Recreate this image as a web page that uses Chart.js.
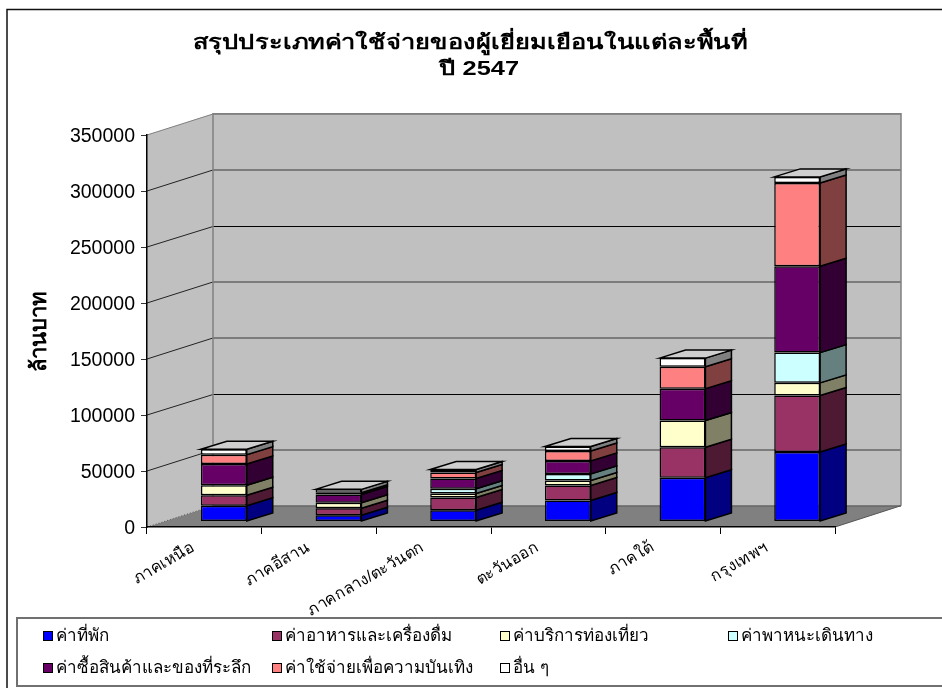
<!DOCTYPE html>
<html>
<head>
<meta charset="utf-8">
<script src="https://cdn.jsdelivr.net/npm/chart.js@4"></script>
<style>
  html, body { margin: 0; padding: 0; background: #fff; overflow: hidden; }
  canvas { display: block; }
</style>
</head>
<body>
<canvas id="c" width="942" height="688"></canvas>
<script>
// ล้านบาท by region
const titleLines = ['สรุปประเภทค่าใช้จ่ายของผู้เยี่ยมเยือนในแต่ละพื้นที่', 'ปี 2547'];
const categories = ['ภาคเหนือ', 'ภาคอีสาน', 'ภาคกลาง/ตะวันตก', 'ตะวันออก', 'ภาคใต้', 'กรุงเทพฯ'];
const seriesNames = ['ค่าที่พัก', 'ค่าอาหารและเครื่องดื่ม', 'ค่าบริการท่องเที่ยว', 'ค่าพาหนะเดินทาง', 'ค่าซื้อสินค้าและของที่ระลึก', 'ค่าใช้จ่ายเพื่อความบันเทิง', 'อื่น ๆ'];
const lodging = [14000, 5600, 10100, 18700, 39000, 62000];
const food = [9500, 6200, 11300, 13400, 27300, 50500];
const services = [8900, 5000, 3600, 4500, 23800, 11300];
const transport = [0, 0, 4200, 5900, 0, 27000];
const shopping = [19000, 7400, 9200, 11600, 28500, 77100];
const entertainment = [8300, 1500, 5400, 8900, 19600, 74400];
const other = [4800, 3000, 2700, 3900, 7700, 5400];
const seriesValues = [lodging, food, services, transport, shopping, entertainment, other];

const frontColors = ['#0000ff', '#993366', '#ffffcc', '#ccffff', '#660066', '#ff8080', '#ffffff'];
const sideColors = ['#000080', '#4d1933', '#808066', '#668080', '#330033', '#804040', '#808080'];
const FONT = "'Liberation Sans', Arial, sans-serif";

// fake 3D: wall depth and bar depth, in px
const WALL = { dx: 66, dy: 21.3 };
const BAR = { dx: 26, dy: 8, shiftX: 19.5, shiftY: -5.5 };
const backLineColors = ['#666', '#666', '#000', '#666', '#666', '#000', '#666', '#808080'];

// title line centres [x, y]; the second line sits off-centre in the original
const titleCentres = [[470, 43], [479, 69]];
// legend cells [x of swatch, y of row centre]
const legendCells = [[43, 636], [272, 636], [500, 636], [728, 636], [43, 668], [272, 668], [500, 668]];

function poly(ctx, pts, fill, stroke, lw) {
  ctx.beginPath();
  pts.forEach((p, i) => i ? ctx.lineTo(p[0], p[1]) : ctx.moveTo(p[0], p[1]));
  ctx.closePath();
  if (fill) { ctx.fillStyle = fill; ctx.fill(); }
  if (stroke) { ctx.strokeStyle = stroke; ctx.lineWidth = lw || 1; ctx.stroke(); }
}

const box3d = {
  id: 'box3d',
  // page, frame, walls and floor go under everything
  beforeDraw(chart) {
    const ctx = chart.ctx, a = chart.chartArea, y = chart.scales.y;
    const dx = WALL.dx, dy = WALL.dy;
    ctx.save();
    ctx.fillStyle = '#fff';
    ctx.fillRect(0, 0, chart.width, chart.height);
    ctx.strokeStyle = '#111';
    ctx.lineWidth = 1.5;
    ctx.strokeRect(7, 9.5, chart.width, chart.height);

    poly(ctx, [[a.left, a.top], [a.left + dx, a.top - dy], [a.left + dx, a.bottom - dy], [a.left, a.bottom]], '#c0c0c0');
    poly(ctx, [[a.left + dx, a.top - dy], [a.right + dx, a.top - dy], [a.right + dx, a.bottom - dy], [a.left + dx, a.bottom - dy]], '#c0c0c0');
    poly(ctx, [[a.left, a.bottom], [a.right, a.bottom], [a.right + dx, a.bottom - dy], [a.left + dx, a.bottom - dy]], '#808080');

    y.ticks.forEach((t, i) => {
      const py = y.getPixelForValue(t.value);
      const black = backLineColors[i] === '#000';
      const by = Math.round(py - dy) + (black ? 0.5 : 0);
      ctx.strokeStyle = backLineColors[i];
      ctx.lineWidth = black ? 1 : 1.6;
      ctx.beginPath();
      ctx.moveTo(a.left + dx, by);
      ctx.lineTo(a.right + dx, by);
      ctx.stroke();
      if (i > 0) {
        ctx.lineWidth = 1;
        ctx.strokeStyle = i === y.ticks.length - 1 ? '#808080' : '#222';
        ctx.beginPath();
        ctx.moveTo(a.left, py);
        ctx.lineTo(a.left + dx, by);
        ctx.stroke();
      }
    });
    // floor's left edge is dotted in the original
    ctx.strokeStyle = '#555';
    ctx.lineWidth = 1;
    ctx.setLineDash([1, 2]);
    ctx.beginPath();
    ctx.moveTo(a.left, a.bottom);
    ctx.lineTo(a.left + dx, a.bottom - dy);
    ctx.stroke();
    ctx.setLineDash([]);
    // wall edges
    ctx.strokeStyle = '#808080';
    ctx.lineWidth = 1.5;
    ctx.beginPath();
    ctx.moveTo(a.left + dx, a.bottom - dy);
    ctx.lineTo(a.left + dx, a.top - dy);
    ctx.lineTo(a.right + dx, a.top - dy);
    ctx.lineTo(a.right + dx, a.bottom - dy);
    ctx.stroke();
    ctx.strokeStyle = '#555';
    ctx.lineWidth = 1;
    ctx.beginPath();
    ctx.moveTo(a.right, a.bottom);
    ctx.lineTo(a.right + dx, a.bottom - dy);
    ctx.stroke();
    ctx.restore();
  },
  beforeDatasetsDraw(chart) {
    chart.ctx.save();
    chart.ctx.translate(BAR.shiftX, BAR.shiftY);
  },
  // side and top faces, taken from the bars the library just laid out
  afterDatasetsDraw(chart) {
    const ctx = chart.ctx;
    const last = seriesValues.length - 1;
    seriesValues.forEach((vals, s) => {
      chart.getDatasetMeta(s).data.forEach((bar, i) => {
        if (!vals[i]) return;
        const p = bar.getProps(['x', 'y', 'base', 'width'], true);
        const r = p.x + p.width / 2, l = p.x - p.width / 2;
        poly(ctx, [[r, p.y], [r + BAR.dx, p.y - BAR.dy], [r + BAR.dx, p.base - BAR.dy], [r, p.base]], sideColors[s], '#000', 1.5);
        if (s === last) {
          poly(ctx, [[l, p.y], [l + BAR.dx, p.y - BAR.dy], [r + BAR.dx, p.y - BAR.dy], [r, p.y]], '#cfcfcf', '#000', 1.5);
        }
      });
    });
    ctx.restore();
  },
  afterDraw(chart) {
    const ctx = chart.ctx;
    ctx.save();
    // title is wider than any installed face, so stretch it sideways
    ctx.fillStyle = '#000';
    ctx.textAlign = 'center';
    ctx.textBaseline = 'middle';
    ctx.font = 'bold 20px ' + FONT;
    titleLines.forEach((line, i) => {
      ctx.save();
      ctx.translate(titleCentres[i][0], titleCentres[i][1]);
      ctx.scale(1.27, 1);
      ctx.fillText(line, 0, 0);
      ctx.restore();
    });
    ctx.textAlign = 'left';

    ctx.fillStyle = '#fff';
    ctx.strokeStyle = '#707070';
    ctx.lineWidth = 2;
    ctx.fillRect(17, 618, chart.width, 68);
    ctx.strokeRect(17, 618, chart.width, 68);
    ctx.font = '17px ' + FONT;
    seriesNames.forEach((name, s) => {
      const cell = legendCells[s];
      ctx.fillStyle = frontColors[s];
      ctx.fillRect(cell[0], cell[1] - 4.5, 9, 9);
      ctx.strokeStyle = '#000';
      ctx.lineWidth = 1;
      ctx.strokeRect(cell[0] + 0.5, cell[1] - 4.5, 9, 9);
      ctx.fillStyle = '#000';
      ctx.fillText(name, cell[0] + 13, cell[1]);
    });
    ctx.restore();
  }
};

new Chart(document.getElementById('c').getContext('2d'), {
  type: 'bar',
  data: {
    labels: categories,
    datasets: seriesNames.map((name, s) => ({
      label: name,
      data: seriesValues[s],
      backgroundColor: frontColors[s],
      borderColor: '#000',
      borderWidth: 1.5,
      borderSkipped: false,
      categoryPercentage: 1,
      barPercentage: 0.4,
      clip: false
    }))
  },
  plugins: [box3d],
  options: {
    responsive: false,
    animation: false,
    layout: { padding: { left: 0, right: 107, top: 135, bottom: 0 } },
    plugins: {
      legend: { display: false },
      tooltip: { enabled: false },
      title: { display: false }
    },
    scales: {
      x: {
        stacked: true,
        afterFit: s => { s.height = 161; },
        grid: { drawOnChartArea: false, drawTicks: true, tickLength: 7, color: '#000', offset: true },
        border: { color: '#000', width: 1.5 },
        ticks: { color: '#000', font: { family: FONT, size: 16 }, minRotation: 30, maxRotation: 30, padding: 4, labelOffset: -11, autoSkip: false }
      },
      y: {
        stacked: true,
        min: 0,
        max: 350000,
        afterFit: s => { s.width = 147; },
        grid: { drawOnChartArea: false, drawTicks: true, tickLength: 6, color: '#333' },
        border: { color: '#000', width: 1.5 },
        ticks: { color: '#000', stepSize: 50000, padding: 6, labelOffset: 2, font: { family: FONT, size: 19.5 }, callback: v => String(v) },
        title: {
          display: true,
          text: 'ล้านบาท',
          color: '#000',
          font: { family: FONT, size: 22, weight: 'bold', lineHeight: 1.2 },
          padding: { top: 27, bottom: 0 }
        }
      }
    }
  }
});
</script>
</body>
</html>
